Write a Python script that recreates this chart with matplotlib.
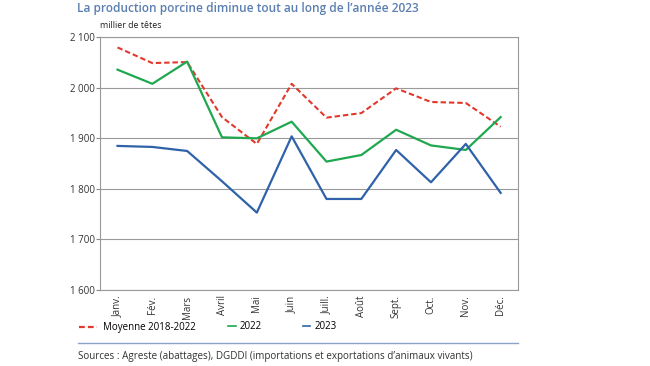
import matplotlib.pyplot as plt
from matplotlib.lines import Line2D

mois = ["Janv.", "Fév.", "Mars", "Avril", "Mai", "Juin", "Juill.", "Août",
        "Sept.", "Oct.", "Nov.", "Déc."]
moyenne = [2080, 2049, 2051, 1942, 1889, 2008, 1941, 1950, 1999, 1972, 1970, 1923]
prod_2022 = [2036, 2008, 2052, 1902, 1900, 1933, 1854, 1867, 1917, 1886, 1877, 1942]
prod_2023 = [1885, 1883, 1875, 1815, 1753, 1904, 1780, 1780, 1877, 1813, 1889, 1792]
yticks = [1600, 1700, 1800, 1900, 2000, 2100]

plt.rcParams['font.family'] = ['Open Sans', 'DejaVu Sans']

c_red = "#e2392d"
c_green = "#1fa84f"
c_blue = "#2f62a8"
dash = (0, (2.6, 1.4))

fig = plt.figure(figsize=(6.5, 3.66), dpi=100)
ax = fig.add_axes([0.154, 0.208, 0.643, 0.69])

x = list(range(len(mois)))
ax.plot(x, moyenne, color=c_red, lw=1.5, ls=dash)
ax.plot(x, prod_2022, color=c_green, lw=1.6)
ax.plot(x, prod_2023, color=c_blue, lw=1.6)

ax.set_xlim(-0.5, 11.5)
ax.set_ylim(1600, 2100)
ax.set_yticks(yticks)
ax.set_yticklabels([f"{v:,}".replace(",", " ") for v in yticks], fontsize=7, color="#333333")
ax.set_xticks(x)
ax.set_xticklabels(mois, rotation=90, fontsize=7, color="#333333")
ax.tick_params(axis="x", length=0, pad=4)
ax.tick_params(axis="y", length=3, color="#888888", pad=1)
ax.grid(axis="y", color="#9a9a9a", lw=0.8)
ax.set_axisbelow(True)
for s in ax.spines.values():
    s.set_color("#999999")
    s.set_linewidth(0.8)

fig.text(0.118, 0.976, "La production porcine diminue tout au long de l\u2019année 2023",
         fontsize=8.6, fontweight="semibold", color="#5b7fb0", va="center", ha="left")
fig.text(0.154, 0.93, "millier de têtes", fontsize=6.4, color="#222222", va="center")

handles = [Line2D([], [], color=c_red, lw=1.6, ls=dash),
           Line2D([], [], color=c_green, lw=1.2),
           Line2D([], [], color=c_blue, lw=1.2)]
fig.legend(handles[:1], ["Moyenne 2018-2022"], loc="center left",
           bbox_to_anchor=(0.108, 0.105), frameon=False, fontsize=7,
           handlelength=1.9, handletextpad=0.6)
fig.legend(handles[1:2], ["2022"], loc="center left",
           bbox_to_anchor=(0.337, 0.108), frameon=False, fontsize=7,
           handlelength=0.8, handletextpad=0.4)
fig.legend(handles[2:], ["2023"], loc="center left",
           bbox_to_anchor=(0.452, 0.108), frameon=False, fontsize=7,
           handlelength=0.8, handletextpad=0.4)

fig.add_artist(Line2D([0.12, 0.797], [0.062, 0.062], color="#8aa3c8", lw=1.0,
                      transform=fig.transFigure))
fig.text(0.12, 0.027, "Sources : Agreste (abattages), DGDDI (importations et exportations d\u2019animaux vivants)",
         fontsize=7.1, color="#333333", va="center")

fig.savefig("out.png", dpi=100, facecolor="white")
